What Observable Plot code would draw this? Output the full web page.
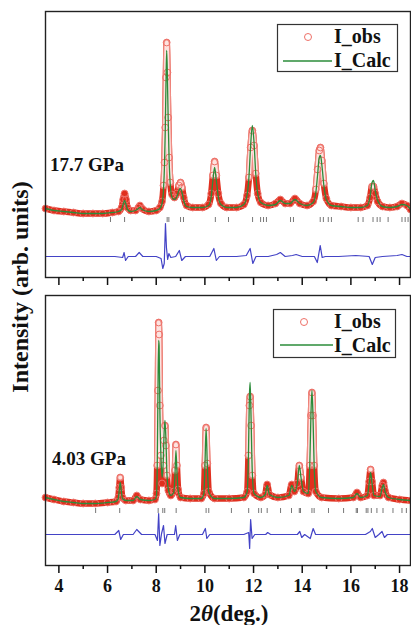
<!DOCTYPE html>
<html><head><meta charset="utf-8">
<script src="https://cdn.jsdelivr.net/npm/d3@7"></script>
<script src="https://cdn.jsdelivr.net/npm/@observablehq/plot@0.6"></script>
<style>
body{margin:0;background:#fff;}
#wrap{position:relative;width:411px;height:625px;overflow:hidden;background:#fff;}
#wrap svg{position:absolute;left:0;}
</style></head><body><div id="wrap"></div>
<script>
// ---------- data (2θ in degrees, intensity in arbitrary units) ----------
const xDomain = [3.45, 18.45];
const majorTicks = [4, 6, 8, 10, 12, 14, 16, 18];
const minorTicks = [5, 7, 9, 11, 13, 15, 17];

// 17.7 GPa
const twoTheta17 = [3.45,3.8,4.2,4.6,5.0,5.4,5.8,6.2,6.45,6.58,6.64,6.70,6.76,6.82,6.95,7.15,7.27,7.33,7.42,7.7,8.0,8.15,8.24,8.3,8.34,8.37,8.40,8.43,8.46,8.49,8.53,8.58,8.65,8.75,8.85,8.93,9.00,9.06,9.13,9.25,9.5,9.9,10.15,10.26,10.33,10.40,10.47,10.55,10.66,10.9,11.3,11.6,11.73,11.81,11.88,11.95,12.02,12.09,12.17,12.3,12.6,12.9,13.1,13.3,13.5,13.7,13.9,14.2,14.45,14.56,14.63,14.70,14.75,14.81,14.89,14.99,15.2,15.6,16.0,16.4,16.68,16.79,16.87,16.93,17.0,17.1,17.3,17.6,17.9,18.1,18.3,18.45];
const iObs17 = [69,67,66,65,64,64,64,65,66,70,78,84,78,70,67,67,70,72,69,66,67,70,76,92,115,150,200,235,205,160,120,95,83,80,84,92,95,90,80,72,70,70,73,84,102,116,102,84,74,70,70,73,82,100,130,147,132,104,84,75,72,74,78,74,74,79,74,72,76,88,108,127,130,117,94,79,72,71,70,70,72,80,91,91,84,76,71,70,71,74,72,68];
const iCalc17 = [69,67,66,65,64,64,64,65,66,68,73,77,73,68,66,67,69,70,68,66,67,69,74,88,112,145,192,227,200,160,118,92,80,78,81,87,89,85,77,71,70,70,72,81,97,110,97,81,73,70,70,73,82,100,132,152,135,104,84,75,72,73,77,74,74,78,74,72,75,85,102,120,122,112,92,78,72,71,70,70,72,81,95,97,87,77,71,70,71,73,72,68];
const diffX17 = [3.45,5.0,6.3,6.62,6.68,6.74,6.85,7.15,7.3,7.45,8.0,8.2,8.27,8.33,8.38,8.42,8.47,8.52,8.6,8.8,8.95,9.05,9.2,10.2,10.37,10.47,10.6,11.3,11.7,11.86,11.97,12.1,12.6,12.95,13.1,13.3,13.6,13.75,14.0,14.5,14.62,14.74,14.82,14.95,15.5,16.2,16.75,16.88,17.0,17.3,17.9,18.1,18.3,18.45];
const diff17 = [21,21,21,20,25,17,21,21,25,21,21,19,9,14,54,30,18,24,20,21,27,17,21,21,29,17,21,21,22,29,14,21,21,23,25,21,22,23,21,21,15,32,20,21,21,22,21,13,20,21,22,23,21,21];
const bragg17 = [6.12,6.70,8.45,8.52,9.0,9.12,10.43,10.97,11.96,12.29,12.41,12.53,13.52,13.64,14.74,14.87,15.07,15.2,16.3,16.5,16.91,17.08,17.2,17.53,18.1,18.23,18.35];
const braggRow17 = [55, 60];

// 4.03 GPa
const twoTheta4 = [3.45,3.8,4.2,4.6,5.0,5.5,6.0,6.35,6.44,6.48,6.52,6.56,6.61,6.75,7.05,7.2,7.35,7.7,7.95,8.01,8.04,8.07,8.10,8.12,8.15,8.19,8.24,8.29,8.32,8.36,8.40,8.44,8.5,8.6,8.72,8.77,8.81,8.85,8.9,9.0,9.4,9.85,9.96,10.0,10.05,10.1,10.16,10.4,11.0,11.6,11.74,11.79,11.83,11.86,11.9,11.95,12.02,12.3,12.48,12.56,12.65,13.0,13.45,13.57,13.68,13.8,13.88,13.95,14.05,14.25,14.31,14.36,14.40,14.44,14.49,14.56,14.8,15.5,16.1,16.25,16.4,16.68,16.75,16.81,16.87,16.95,17.2,17.29,17.34,17.4,17.55,18.0,18.45];
const iObs4 = [68,66,64,63,62,62,63,64,68,78,88,78,68,65,65,70,66,65,66,72,100,175,243,231,160,110,82,100,125,140,120,90,75,70,74,95,121,100,76,68,67,67,72,100,138,102,74,67,67,68,74,110,160,169,140,90,72,68,71,81,71,68,70,81,74,82,100,88,74,72,100,150,173,150,100,74,68,67,68,73,68,70,84,96,84,70,70,80,83,75,68,66,65];
const iCalc4 = [68,66,64,63,62,62,63,64,67,75,83,76,67,65,65,69,66,65,66,70,95,170,225,220,155,112,88,105,130,145,125,92,76,70,73,90,115,95,75,68,67,67,72,98,137,100,73,67,67,68,74,110,170,183,145,92,72,68,71,80,71,68,70,80,74,82,100,88,74,72,100,152,175,152,100,74,68,67,68,72,68,70,82,93,82,70,69,78,81,74,68,66,65];
const diffX4 = [3.45,5.0,6.3,6.46,6.54,6.65,7.05,7.2,7.4,7.95,8.05,8.1,8.15,8.22,8.3,8.36,8.45,8.75,8.8,8.87,8.97,9.9,10.02,10.08,10.2,11.6,11.8,11.84,11.88,11.94,12.05,12.5,12.58,12.7,13.8,13.9,13.98,14.1,14.33,14.45,14.55,16.6,16.8,16.88,17.0,17.15,17.28,17.38,17.5,18.45];
const diff4 = [31,31,31,35,26,31,31,36,31,31,25,52,20,32,40,22,31,31,40,25,31,31,37,27,31,31,33,17,46,27,31,31,33,31,31,34,28,31,27,37,31,31,34,37,28,31,34,28,31,31];
const bragg4 = [5.51,6.50,8.08,8.27,8.35,8.82,10.05,10.16,11.09,11.80,12.21,12.32,12.56,13.11,13.56,13.88,13.93,14.40,14.49,15.08,15.70,16.22,16.27,16.63,16.70,16.84,17.07,17.32,17.73,18.10,18.28];
const braggRow4 = [52, 57];

const labels17 = {pressure: "17.7 GPa"};
const labels4 = {pressure: "4.03 GPa"};
const legendObs = "I_obs", legendCalc = "I_Calc";

// ---------- styles ----------
const RED = "#e0301f", PEAKEDGE = "#f08c84", PINKCORE = "#fde3e0", PINK = "#ee7068", GREEN = "#2b8c3a", BLUE = "#4343c6";
const FONT = "'Liberation Serif','Times New Roman',serif";
const PEAK_LEVEL = 86; // above this the dense circles appear as separate pink rings

function panel({tt, obs, calc, dx, dy, bragg, braggRow, height, marginTop, marginBottom, yMax, showLabels}) {
  const rows = tt.map((x, i) => ({x, obs: obs[i], calc: calc[i]}));
  const diff = dx.map((x, i) => ({x, y: dy[i]}));
  const peakY = d => d.obs > PEAK_LEVEL ? d.obs : NaN;
  return Plot.plot({
    width: 411, height, marginLeft: 45, marginRight: 1, marginTop, marginBottom,
    x: {domain: xDomain},
    y: {domain: [0, yMax], axis: null},
    style: {fontFamily: FONT, fontWeight: "bold", fontSize: "18px", color: "#111", background: "transparent", overflow: "visible"},
    marks: [
      Plot.ruleX(bragg, {x: d => d, y1: braggRow[0], y2: braggRow[1], stroke: "#777", strokeWidth: 1}),
      Plot.line(diff, {x: "x", y: "y", stroke: BLUE, strokeWidth: 1.2}),
      Plot.line(rows, {x: "x", y: "obs", stroke: RED, strokeWidth: 6.5, curve: "monotone-x"}),
      Plot.line(rows, {x: "x", y: peakY, stroke: PEAKEDGE, strokeWidth: 6.5, curve: "monotone-x"}),
      Plot.line(rows, {x: "x", y: peakY, stroke: PINKCORE, strokeWidth: 4, curve: "monotone-x"}),
      Plot.dot(rows, {x: "x", y: "obs", r: 3.4, stroke: PINK, fill: "none", strokeWidth: 1}),
      Plot.line(rows, {x: "x", y: "calc", stroke: GREEN, strokeWidth: 1.3, curve: "monotone-x"}),
      Plot.frame({stroke: "#222", strokeWidth: 1.4}),
      Plot.axisX({ticks: majorTicks, tickSize: 8, strokeWidth: 1.5, label: null, tickPadding: 6,
        tickFormat: showLabels ? (d => String(d)) : (() => "")}),
      Plot.axisX({ticks: minorTicks, tickSize: 4, strokeWidth: 1.5, label: null, tickFormat: () => ""})
    ]
  });
}

const wrap = document.getElementById("wrap");
const p1 = panel({tt: twoTheta17, obs: iObs17, calc: iCalc17, dx: diffX17, dy: diff17, bragg: bragg17, braggRow: braggRow17,
  height: 290, marginTop: 11, marginBottom: 13, yMax: 266, showLabels: false});
p1.style.top = "0px";
const p2 = panel({tt: twoTheta4, obs: iObs4, calc: iCalc4, dx: diffX4, dy: diff4, bragg: bragg4, braggRow: braggRow4,
  height: 335, marginTop: 5, marginBottom: 60, yMax: 270, showLabels: true});
p2.style.top = "290px";
wrap.appendChild(p1);
wrap.appendChild(p2);

// ---------- overlay: legends, labels, axis titles ----------
function legendSVG(bx, by, bw, bh, cx, cy, tx, ty1, lx1, lx2, ly, ty2) {
  return `<rect x="${bx}" y="${by}" width="${bw}" height="${bh}" fill="#fff" stroke="#333" stroke-width="1.2"/>
  <circle cx="${cx}" cy="${cy}" r="3.5" fill="none" stroke="${PINK}" stroke-width="1"/>
  <text x="${tx}" y="${ty1}">${legendObs}</text>
  <line x1="${lx1}" x2="${lx2}" y1="${ly}" y2="${ly}" stroke="${GREEN}" stroke-width="1.3"/>
  <text x="${tx}" y="${ty2}">${legendCalc}</text>`;
}
const ov = `<svg width="411" height="625" style="top:0;pointer-events:none" font-family="${FONT}" font-weight="bold" fill="#111">
  <g font-size="20">
  ${legendSVG(277.5, 24.5, 120, 47, 308, 37, 334, 43, 283, 332, 61, 67)}
  ${legendSVG(273.5, 309.5, 122, 48, 304, 322, 334, 328, 280, 333, 345, 352)}
  </g>
  <text x="50" y="171" font-size="19">${labels17.pressure}</text>
  <text x="52" y="465" font-size="19">${labels4.pressure}</text>
  <text x="229" y="621" font-size="23" text-anchor="middle">2<tspan font-style="italic">θ</tspan>(deg.)</text>
  <text transform="translate(28,287) rotate(-90)" font-size="24" text-anchor="middle">Intensity (arb. units)</text>
</svg>`;
wrap.insertAdjacentHTML("beforeend", ov);
</script>
</body></html>
